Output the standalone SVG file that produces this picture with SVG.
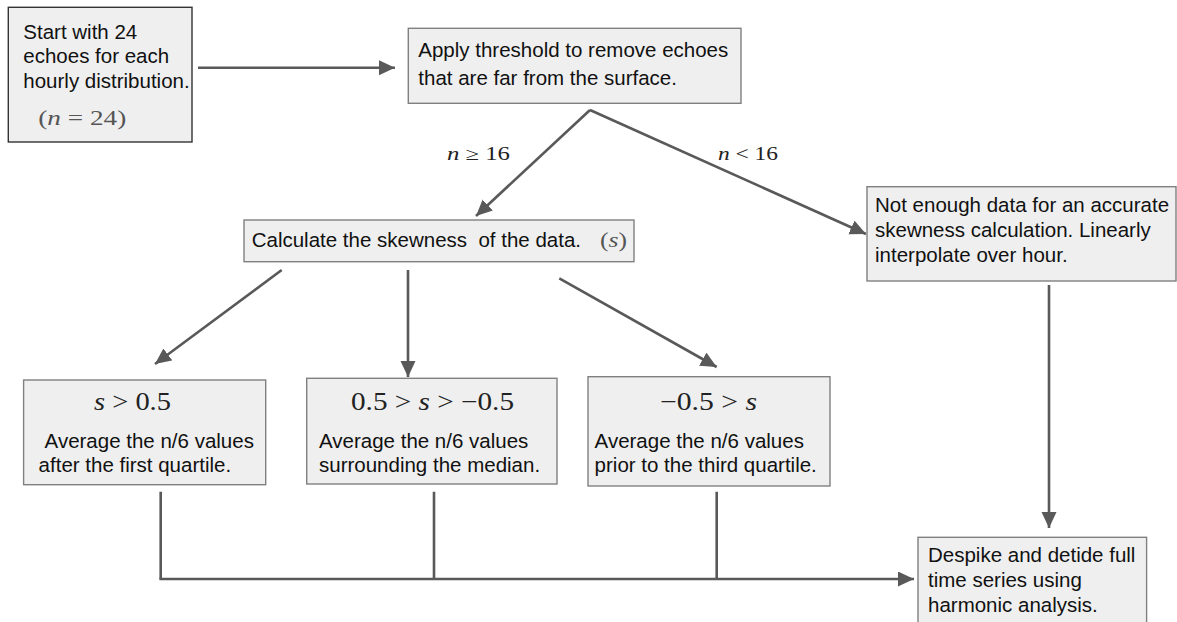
<svg xmlns="http://www.w3.org/2000/svg" width="1177" height="622" viewBox="0 0 1177 622">
<style>
.box{fill:#efefef;stroke:#808080;stroke-width:1.4}
.box1{fill:#efefef;stroke:#333;stroke-width:1.4}
.t{font-family:"Liberation Sans",Arial,sans-serif;font-size:20.5px;fill:#111}
.m{font-family:"Liberation Serif","DejaVu Serif",serif;fill:#222}
.mg{font-family:"Liberation Serif","DejaVu Serif",serif;fill:#555}
.i{font-style:italic}
.c{fill:none;stroke:#595959;stroke-width:2.6}
.a{marker-end:url(#ah)}
</style>
<defs>
<marker id="ah" markerUnits="userSpaceOnUse" markerWidth="18" markerHeight="16" refX="16" refY="7.5" orient="auto">
<path d="M0,0 L16,7.5 L0,15 z" fill="#595959"/>
</marker>
</defs>
<rect width="1177" height="622" fill="#fff"/>
<g id="connectors">
<path class="c a" d="M198,67.7 H395"/>
<path class="c a" d="M590,110 L476,216"/>
<path class="c a" d="M590,110 L866,234"/>
<path class="c a" d="M281.7,270 L155,364"/>
<path class="c a" d="M408,270 V377"/>
<path class="c a" d="M559.3,278.3 L716.7,367"/>
<path class="c a" d="M1049,285 V528"/>
<path class="c" d="M160.7,491.7 V579 M434,491.7 V579 M716.7,491.7 V579"/>
<path class="c a" d="M159.4,579 H914"/>
<text class="m" x="447" y="160" font-size="18" textLength="63" lengthAdjust="spacingAndGlyphs"><tspan class="i">n</tspan> ≥ 16</text>
<text class="m" x="718" y="160" font-size="18" textLength="60" lengthAdjust="spacingAndGlyphs"><tspan class="i">n</tspan> &lt; 16</text>
</g>
<g id="start">
<rect class="box1" x="8.3" y="7.3" width="183.7" height="134.7"/>
<text class="t" x="23.3" y="38.5">Start with 24</text>
<text class="t" x="23.3" y="63">echoes for each</text>
<text class="t" x="23.3" y="87.5">hourly distribution.</text>
<text class="mg" x="38.3" y="125" font-size="22" textLength="88" lengthAdjust="spacingAndGlyphs">(<tspan class="i">n</tspan> = 24)</text>
</g>
<g id="threshold">
<rect class="box" x="408.3" y="28.3" width="332.7" height="75"/>
<text class="t" x="418.3" y="57">Apply threshold to remove echoes</text>
<text class="t" x="418.3" y="85">that are far from the surface.</text>
</g>
<g id="skewness">
<rect class="box" x="244" y="220" width="390" height="41.7"/>
<text class="t" x="251.7" y="247.3" style="white-space:pre">Calculate the skewness  of the data.</text>
<text class="mg" x="600" y="247.3" font-size="22" textLength="27" lengthAdjust="spacingAndGlyphs">(<tspan class="i">s</tspan>)</text>
</g>
<g id="notenough">
<rect class="box" x="867" y="186.7" width="309" height="94.3"/>
<text class="t" x="875" y="211.7">Not enough data for an accurate</text>
<text class="t" x="875" y="236.7">skewness calculation. Linearly</text>
<text class="t" x="875" y="261.7">interpolate over hour.</text>
</g>
<g id="positive">
<rect class="box" x="23.6" y="380" width="242.1" height="104.7"/>
<text class="m" x="94" y="410" font-size="25" textLength="77" lengthAdjust="spacingAndGlyphs"><tspan class="i">s</tspan> &gt; 0.5</text>
<text class="t" x="44.6" y="448">Average the n/6 values</text>
<text class="t" x="38.6" y="472">after the first quartile.</text>
</g>
<g id="neutral">
<rect class="box" x="306.7" y="378.3" width="250.3" height="105.7"/>
<text class="m" x="351" y="410" font-size="25" textLength="163" lengthAdjust="spacingAndGlyphs">0.5 &gt; <tspan class="i">s</tspan> &gt; −0.5</text>
<text class="t" x="319" y="448">Average the n/6 values</text>
<text class="t" x="319" y="472">surrounding the median.</text>
</g>
<g id="negative">
<rect class="box" x="588" y="376.7" width="242" height="109.3"/>
<text class="m" x="660" y="410" font-size="25" textLength="97" lengthAdjust="spacingAndGlyphs">−0.5 &gt; <tspan class="i">s</tspan></text>
<text class="t" x="594.6" y="448">Average the n/6 values</text>
<text class="t" x="594.6" y="472">prior to the third quartile.</text>
</g>
<g id="despike">
<rect class="box" x="918" y="537.3" width="228.6" height="100"/>
<text class="t" x="928" y="561.7">Despike and detide full</text>
<text class="t" x="928" y="586.7">time series using</text>
<text class="t" x="928" y="611.7">harmonic analysis.</text>
</g>
</svg>
